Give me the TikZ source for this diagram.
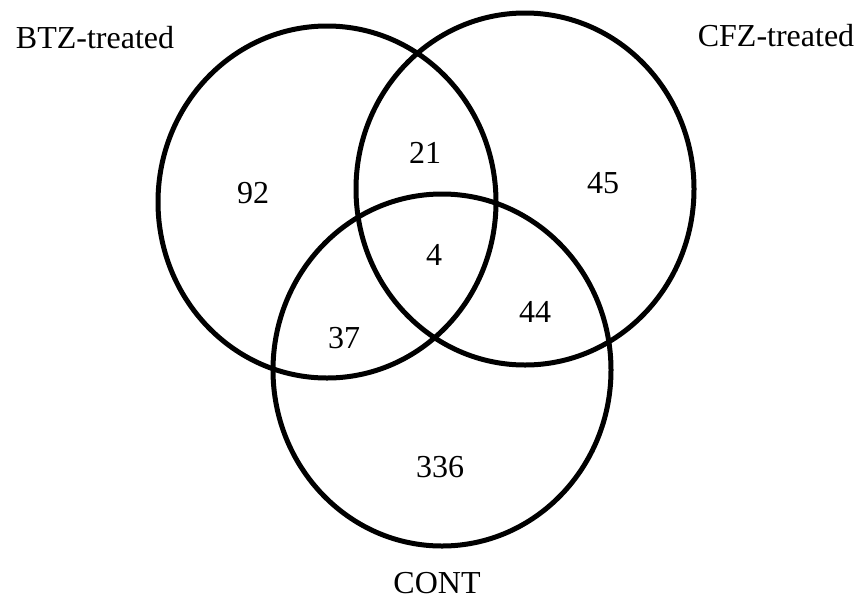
\documentclass[tikz,border=0pt]{standalone}
\usepackage{fontspec}
\setmainfont{Liberation Serif}
\usetikzlibrary{shapes.geometric}

\begin{document}
\begin{tikzpicture}[x=1pt,y=-1pt,
    set/.style={ellipse,draw,line width=5pt,inner sep=0pt,
      minimum width=338pt,minimum height=352pt},
    count/.style={inner sep=0pt,font=\fontsize{32}{38}\selectfont}]
    \useasboundingbox (0,0) rectangle (858,603);

    % the three sets
    \node[set] (btz) at (327,202) {};
    \node[set] (cfz) at (525,189) {};
    \node[set] (cont) at (442,370) {};

    % set names
    \node[count] (btzname) at (95,38) {BTZ-treated};
    \node[count] (cfzname) at (776,36) {CFZ-treated};
    \node[count] (contname) at (437,583) {CONT};

    % region counts
    \node[count] (onlybtz) at (253,193) {92};
    \node[count] (btzcfz) at (425,153) {21};
    \node[count] (onlycfz) at (603,183) {45};
    \node[count] (all) at (434,255) {4};
    \node[count] (cfzcont) at (535,312) {44};
    \node[count] (btzcont) at (344,338) {37};
    \node[count] (onlycont) at (440,467) {336};
\end{tikzpicture}
\end{document}
